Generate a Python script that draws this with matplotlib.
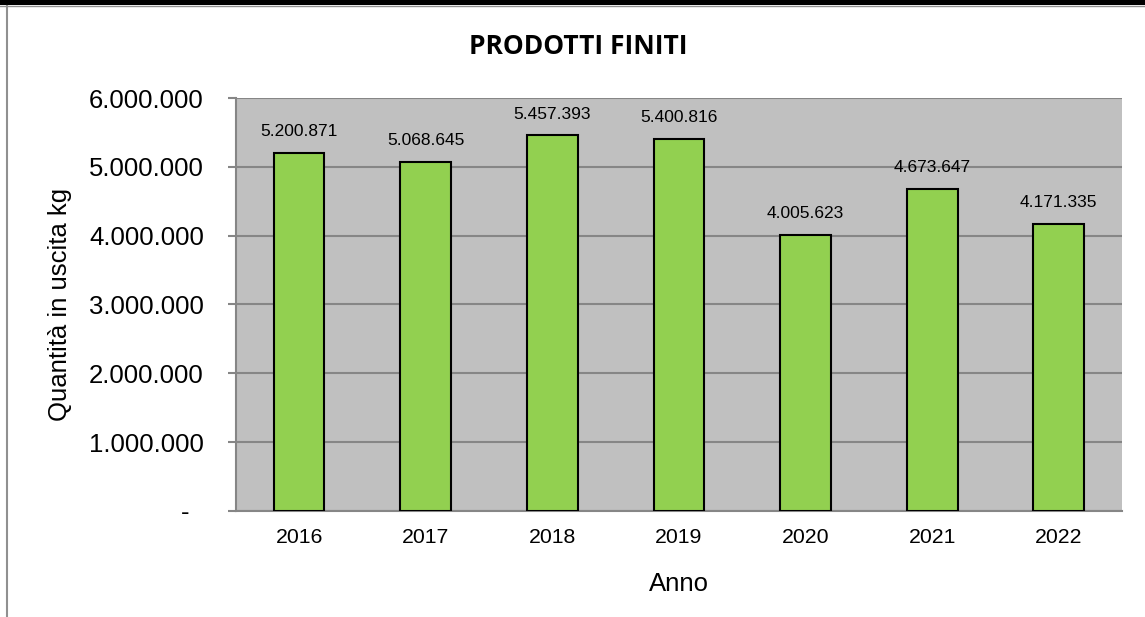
import matplotlib.pyplot as plt
from matplotlib.lines import Line2D
from matplotlib.ticker import FuncFormatter

anni = ["2016", "2017", "2018", "2019", "2020", "2021", "2022"]
quantita = [5200871, 5068645, 5457393, 5400816, 4005623, 4673647, 4171335]
y_ticks = [0, 1000000, 2000000, 3000000, 4000000, 5000000, 6000000]


def fmt_it(v, pos=None):
    if v == 0:
        return "-  "
    return f"{int(round(v)):,}".replace(",", ".")


plt.rcParams["font.family"] = ["Liberation Sans", "DejaVu Sans"]

fig = plt.figure(figsize=(11.45, 6.17), dpi=100)
ax = fig.add_axes([0.206, 0.172, 0.774, 0.669])
ax.set_facecolor("#c0c0c0")

x = range(len(anni))
bars = ax.bar(x, quantita, width=0.4, color="#92d050", edgecolor="black", linewidth=1.5, zorder=3)

for xi, v in zip(x, quantita):
    ax.annotate(fmt_it(v), (xi, v), xytext=(0, 10), textcoords="offset points",
                ha="center", va="bottom", fontsize=12.5)

ax.set_xlim(-0.5, len(anni) - 0.5)
ax.set_ylim(0, 6000000)
ax.set_yticks(y_ticks)
ax.yaxis.set_major_formatter(FuncFormatter(fmt_it))
ax.set_xticks(list(x))
ax.set_xticklabels(anni, fontsize=15.3)
ax.tick_params(axis="y", labelsize=18.5, length=6, width=1.5, color="#868686", pad=17)
ax.tick_params(axis="x", length=0, pad=12)
ax.grid(axis="y", color="#868686", linewidth=1.5, zorder=1)

for s in ["top", "right"]:
    ax.spines[s].set_visible(False)
for s in ["left", "bottom"]:
    ax.spines[s].set_color("#868686")
    ax.spines[s].set_linewidth(1.5)

ax.set_xlabel("Anno", fontsize=18.5, labelpad=18)
ax.set_ylabel("Quantità in uscita kg", fontsize=18.5, labelpad=12)

fig.text(0.505, 0.925, "PRODOTTI FINITI", ha="center", va="center",
         fontsize=19, fontweight="bold", family=["Open Sans", "DejaVu Sans"])

# cornice della pagina
fig.add_artist(Line2D([0, 1], [0.996, 0.996], color="black", linewidth=3.6, transform=fig.transFigure))
fig.add_artist(Line2D([0, 1], [0.99, 0.99], color="#909090", linewidth=1, transform=fig.transFigure))
fig.add_artist(Line2D([0.0065, 0.0065], [0, 0.99], color="#909090", linewidth=1.5, transform=fig.transFigure))

fig.savefig("out.png", dpi=100)
